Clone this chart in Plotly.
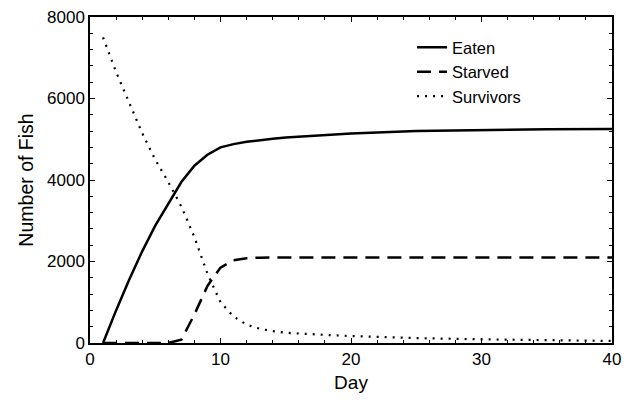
import plotly.graph_objects as go

days = [1, 2, 3, 4, 5, 6, 7, 8, 9, 10, 11, 12, 13, 14, 15, 16, 18, 20, 25, 30, 35, 40]
eaten = [0, 800, 1550, 2250, 2880, 3430, 3950, 4350, 4620, 4800, 4880, 4940, 4980, 5010, 5040, 5060, 5100, 5140, 5200, 5230, 5245, 5250]
starved = [0, 0, 0, 0, 0, 0, 80, 700, 1400, 1850, 2030, 2080, 2095, 2100, 2100, 2100, 2100, 2100, 2100, 2100, 2100, 2100]
survivors = [7500, 6650, 5900, 5150, 4500, 3950, 3350, 2600, 1700, 1000, 650, 450, 350, 290, 250, 230, 200, 170, 120, 90, 70, 50]

FONT = "Liberation Sans, Arial, sans-serif"

fig = go.Figure()
fig.add_trace(go.Scatter(x=days, y=eaten, mode="lines", name="Eaten",
                         line=dict(color="black", width=2.5, dash="solid")))
fig.add_trace(go.Scatter(x=days, y=starved, mode="lines", name="Starved",
                         line=dict(color="black", width=2.5, dash="14px,8px")))
fig.add_trace(go.Scatter(x=days, y=survivors, mode="lines", name="Survivors",
                         line=dict(color="black", width=2.2, dash="2px,6px")))

axis_common = dict(
    showgrid=False, zeroline=False, showline=True, linecolor="black", linewidth=1.5,
    mirror="ticks", ticks="inside", ticklen=5, tickwidth=1, tickcolor="black",
    tickfont=dict(family=FONT, size=17, color="black"), automargin=False,
)

fig.update_xaxes(range=[0, 40], tickvals=[0, 10, 20, 30, 40],
                 title=dict(text="Day", font=dict(family=FONT, size=19, color="black"), standoff=8),
                 minor=dict(dtick=2, ticks="inside", ticklen=3, tickcolor="black"),
                 **axis_common)
fig.update_yaxes(range=[0, 8000], tickvals=[0, 2000, 4000, 6000, 8000],
                 title=dict(text="Number of Fish", font=dict(family=FONT, size=19.5, color="black"), standoff=8),
                 minor=dict(dtick=400, ticks="inside", ticklen=3, tickcolor="black"),
                 **axis_common)

fig.update_layout(
    width=626, height=400,
    margin=dict(l=90, r=14, t=17, b=57),
    paper_bgcolor="white", plot_bgcolor="white",
    font=dict(family=FONT, color="black"),
    legend=dict(x=0.617, y=0.96, xanchor="left", yanchor="top",
                bgcolor="rgba(0,0,0,0)", font=dict(family=FONT, size=16.5, color="black"),
                tracegroupgap=0),
    showlegend=True,
)

fig.write_html("out.html")
